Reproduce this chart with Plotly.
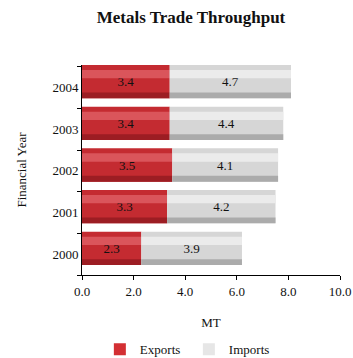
import plotly.graph_objects as go

years = ["2000", "2001", "2002", "2003", "2004"]
exports = [2.3, 3.3, 3.5, 3.4, 3.4]
imports = [3.9, 4.2, 4.1, 4.4, 4.7]
x_ticks = [0, 2, 4, 6, 8, 10]

FONT = "Liberation Serif, DejaVu Serif, serif"
BAR_W = 0.8
BAR_OFF = -0.26

fig = go.Figure()


def add_series(values, base, name, main, light, dark, legend_color):
    # main body of the cylinder-like bar
    fig.add_trace(go.Bar(
        y=years, x=values, base=base, name=name, orientation="h",
        marker=dict(color=main, line=dict(width=0)),
        text=[f"{v:.1f}" for v in values], textposition="inside",
        insidetextanchor="middle", textfont=dict(color="#111111", size=13, family=FONT),
        width=BAR_W, offset=BAR_OFF, showlegend=False,
    ))
    # top highlight band
    fig.add_trace(go.Bar(
        y=years, x=values, base=base, orientation="h",
        marker=dict(color=light, line=dict(width=0)),
        width=0.2, offset=BAR_OFF + BAR_W - 0.32, showlegend=False, hoverinfo="skip",
    ))
    # bottom shadow band
    fig.add_trace(go.Bar(
        y=years, x=values, base=base, orientation="h",
        marker=dict(color=dark, line=dict(width=0)),
        width=0.14, offset=BAR_OFF, showlegend=False, hoverinfo="skip",
    ))
    # legend entry
    fig.add_trace(go.Bar(
        y=[None], x=[None], name=name, orientation="h",
        marker=dict(color=legend_color, line=dict(width=0)), showlegend=True,
    ))


add_series(exports, [0] * len(exports), "Exports", "#C42B31", "#DA555B", "#9C1D23", "#D32F33")
add_series(imports, exports, "Imports", "#D6D6D6", "#EBEBEB", "#ABABAB", "#E6E6E6")

fig.update_layout(
    barmode="overlay",
    width=353, height=358,
    margin=dict(l=82, r=13, t=65, b=83),
    paper_bgcolor="white", plot_bgcolor="white",
    font=dict(family=FONT, size=13, color="#111111"),
    title=dict(text="<b>Metals Trade Throughput</b>", x=0.541, xanchor="center",
               y=0.951, yanchor="middle", font=dict(size=17, family=FONT, color="#111111")),
    showlegend=True,
    legend=dict(orientation="h", x=0.535, xanchor="center", xref="container",
                y=0.024, yanchor="middle", yref="container",
                font=dict(size=13, family=FONT), traceorder="normal",
                entrywidth=44, entrywidthmode="pixels", itemwidth=30),
    uniformtext=dict(minsize=10, mode="show"),
)
fig.update_xaxes(
    range=[0, 10], tickvals=x_ticks, tickformat=".1f",
    showline=True, linecolor="black", linewidth=1,
    ticks="outside", ticklen=4, tickcolor="black",
    showgrid=False, zeroline=False, automargin=False,
    title=dict(text="MT", standoff=20, font=dict(size=13)),
)
fig.update_yaxes(
    type="category", categoryorder="array", categoryarray=years,
    showline=True, linecolor="black", linewidth=1,
    ticks="outside", ticklen=4, tickcolor="black", tickson="boundaries",
    showgrid=False, zeroline=False, automargin=False,
    title=dict(text="Financial Year", standoff=22, font=dict(size=13)),
)

fig.write_html("out.html",
               config={"displayModeBar": False},
               post_script="document.body.style.margin='0';document.body.style.overflow='hidden';")
